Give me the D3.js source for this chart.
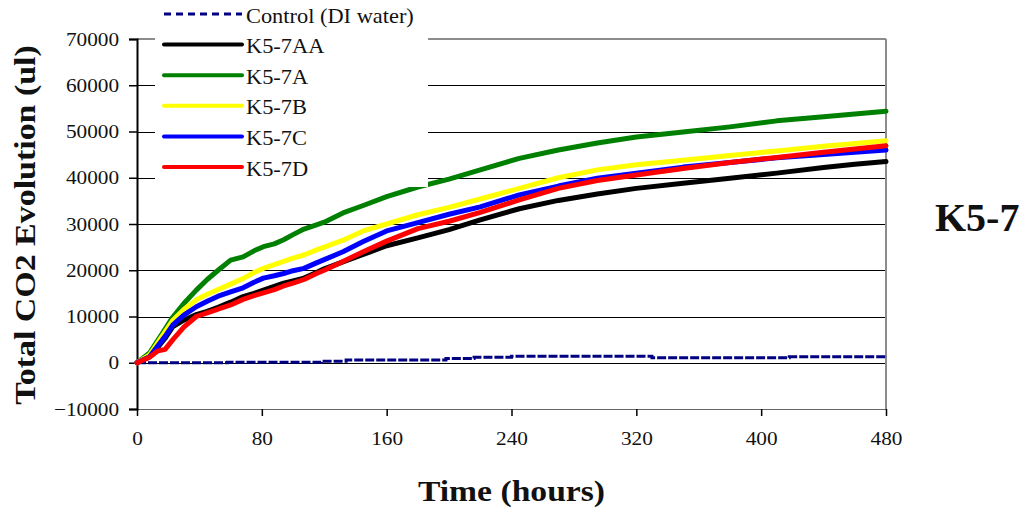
<!DOCTYPE html>
<html>
<head>
<meta charset="utf-8">
<script src="https://cdn.jsdelivr.net/npm/d3@7"></script>
<style>
  html, body { margin: 0; padding: 0; background: #fff; }
  svg { display: block; }
</style>
</head>
<body>
<svg id="chart" width="1028" height="512"></svg>
<script>
// Sampling times (hours) shared by the K5-7 treatments
const hours = [0, 8, 13, 18, 23, 30, 38, 45, 52, 60, 68, 75, 81, 88, 94,
  100, 107, 115, 120, 132, 145, 160, 180, 200, 220, 245, 270, 295, 320, 350,
  380, 410, 440, 460, 480];

// Cumulative CO2 evolution (ul) per treatment
const k57AA = [0, 1300, 3200, 5300, 7800, 9200, 10400, 11100, 12000, 13100,
  14300, 15000, 15700, 16500, 17200, 17700, 18300, 19500, 20300, 21800,
  23400, 25300, 27000, 28800, 30900, 33300, 35100, 36500, 37700, 38800,
  39900, 41000, 42200, 42900, 43500];
const k57A = [0, 2100, 4700, 7300, 9900, 12800, 15700, 18000, 20000, 22200,
  22900, 24200, 25100, 25700, 26600, 27700, 28900, 29800, 30400, 32400,
  34000, 35900, 38000, 39700, 41700, 44200, 46000, 47500, 48800, 49900,
  51000, 52300, 53200, 53800, 54400];
const k57B = [0, 1700, 4200, 6700, 9200, 11500, 13600, 14800, 15800, 17000,
  18200, 19500, 20400, 21200, 21900, 22600, 23300, 24400, 25000, 26500,
  28500, 30000, 32000, 33600, 35400, 37700, 40000, 41700, 42800, 43800,
  44800, 45800, 46800, 47400, 48000];
const k57C = [0, 1300, 3500, 5700, 8200, 10300, 12100, 13300, 14400, 15300,
  16200, 17400, 18300, 18800, 19300, 19900, 20400, 21600, 22300, 24000,
  26200, 28500, 30300, 32100, 33700, 36300, 38200, 39900, 41000, 42300,
  43300, 44300, 45000, 45500, 46000];
const k57D = [0, 1200, 2500, 2900, 5000, 7700, 10000, 10800, 11600, 12500,
  13700, 14500, 15100, 15800, 16600, 17200, 18000, 19300, 20000, 21900,
  24000, 26300, 29000, 30600, 32500, 35200, 37700, 39400, 40600, 42000,
  43300, 44400, 45500, 46200, 46900];

// Control (DI water) readings, stepwise
const controlHours = [0, 58, 118, 134, 198, 216, 240, 330, 418, 480];
const controlValues = [0, 100, 300, 600, 900, 1200, 1400, 1100, 1300, 1300];

const seriesNames = ["K5-7AA", "K5-7A", "K5-7B", "K5-7C", "K5-7D"];
const seriesValues = [k57AA, k57A, k57B, k57C, k57D];
const seriesColors = ["#000000", "#008000", "#ffff00", "#0000ff", "#ff0000"];
const controlName = "Control (DI water)";
const controlColor = "#000080";

const xTicks = [0, 80, 160, 240, 320, 400, 480];
const yTicks = [-10000, 0, 10000, 20000, 30000, 40000, 50000, 60000, 70000];

const serif = "'Liberation Serif', 'Times New Roman', serif";
const stretch = 1.12;   // widen the serif face a little

const svg = d3.select("#chart");
const plot = { left: 137, right: 886, top: 39, bottom: 409 };

const x = d3.scaleLinear().domain([0, 480]).range([plot.left, plot.right]);
const y = d3.scaleLinear().domain([-10000, 70000]).range([plot.bottom, plot.top]);

// Horizontal gridlines
svg.append("g")
  .selectAll("line")
  .data(yTicks.filter(v => v > -10000 && v < 70000))
  .join("line")
  .attr("x1", plot.left).attr("x2", plot.right)
  .attr("y1", d => Math.round(y(d)) + 0.5).attr("y2", d => Math.round(y(d)) + 0.5)
  .attr("stroke", "#000").attr("stroke-width", 1);

// Frame: top and right in gray
svg.append("line")
  .attr("x1", plot.left).attr("x2", plot.right)
  .attr("y1", plot.top).attr("y2", plot.top)
  .attr("stroke", "#8c8c8c").attr("stroke-width", 2);
svg.append("line")
  .attr("x1", plot.right).attr("x2", plot.right)
  .attr("y1", plot.top).attr("y2", plot.bottom)
  .attr("stroke", "#8c8c8c").attr("stroke-width", 2);

// Axes
const xAxis = svg.append("g")
  .attr("transform", `translate(0,${plot.bottom})`)
  .call(d3.axisBottom(x).tickValues(xTicks).tickSize(7).tickPadding(16).tickFormat(d3.format("d")));
xAxis.select(".domain").attr("stroke", "#666").attr("stroke-width", 1);
xAxis.selectAll(".tick line").attr("stroke", "#000").attr("stroke-width", 1.5);
xAxis.selectAll(".tick text")
  .attr("font-family", serif).attr("font-size", 19).attr("fill", "#111")
  .attr("transform", `scale(${stretch},1)`);

const yAxis = svg.append("g")
  .attr("transform", `translate(${plot.left},0)`)
  .call(d3.axisLeft(y).tickValues(yTicks).tickSize(8).tickPadding(8).tickFormat(d3.format("d")));
yAxis.select(".domain").attr("stroke", "#000").attr("stroke-width", 2);
yAxis.selectAll(".tick line").attr("stroke", "#000").attr("stroke-width", 1.5);
yAxis.selectAll(".tick text")
  .attr("font-family", serif).attr("font-size", 19).attr("fill", "#111")
  .attr("transform", `scale(${stretch},1)`);
svg.selectAll(".domain").attr("fill", "none");

// Curves
const line = d3.line()
  .x(d => x(d[0]))
  .y(d => y(d[1]));

const stepLine = d3.line()
  .x(d => x(d[0]))
  .y(d => y(d[1]))
  .curve(d3.curveStepAfter);

svg.append("path")
  .datum(controlHours.map((h, i) => [h, controlValues[i]]))
  .attr("d", stepLine)
  .attr("fill", "none")
  .attr("stroke", controlColor)
  .attr("stroke-width", 3)
  .attr("stroke-dasharray", "9,2");

seriesValues.forEach((vals, k) => {
  svg.append("path")
    .datum(hours.map((h, i) => [h, vals[i]]))
    .attr("d", line)
    .attr("fill", "none")
    .attr("stroke", seriesColors[k])
    .attr("stroke-width", 5)
    .attr("stroke-linejoin", "round")
    .attr("stroke-linecap", "round");
});

// Legend
const legend = svg.append("g");
legend.append("rect")
  .attr("x", 155).attr("y", 0)
  .attr("width", 273).attr("height", 187)
  .attr("fill", "#fff");

const legendItems = [{ name: controlName, color: controlColor, dashed: true }]
  .concat(seriesNames.map((n, i) => ({ name: n, color: seriesColors[i], dashed: false })));

const rowY = i => 14 + i * 30.6;
legendItems.forEach((d, i) => {
  legend.append("line")
    .attr("x1", 164).attr("x2", 242)
    .attr("y1", rowY(i)).attr("y2", rowY(i))
    .attr("stroke", d.color)
    .attr("stroke-width", d.dashed ? 3 : 4)
    .attr("stroke-linecap", d.dashed ? "butt" : "round")
    .attr("stroke-dasharray", d.dashed ? "7,5" : null);
  legend.append("text")
    .attr("transform", `translate(246,${rowY(i) + 8.5}) scale(${stretch},1)`)
    .attr("font-family", serif).attr("font-size", 20).attr("fill", "#111")
    .text(d.name);
});

// Axis titles
svg.append("text")
  .attr("transform", `translate(${(plot.left + plot.right) / 2},501) scale(1.16,1)`)
  .attr("text-anchor", "middle")
  .attr("font-family", serif).attr("font-weight", "bold").attr("font-size", 29)
  .attr("fill", "#111")
  .text("Time (hours)");

svg.append("text")
  .attr("transform", `translate(35,225) rotate(-90) scale(1.17,1)`)
  .attr("text-anchor", "middle")
  .attr("font-family", serif).attr("font-weight", "bold").attr("font-size", 29)
  .attr("fill", "#111")
  .text("Total CO2 Evolution (ul)");

// Sample label
svg.append("text")
  .attr("x", 935).attr("y", 231)
  .attr("font-family", serif).attr("font-weight", "bold").attr("font-size", 40)
  .attr("fill", "#111")
  .text("K5-7");
</script>
</body>
</html>
